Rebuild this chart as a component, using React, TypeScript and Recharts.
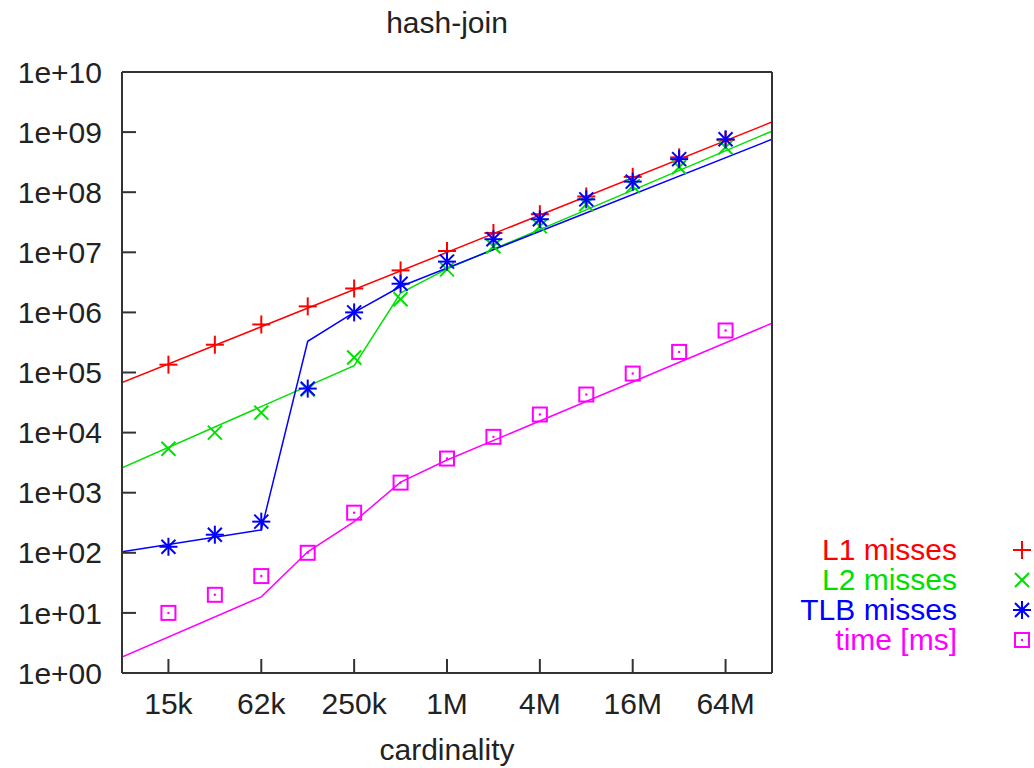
import React from 'react';
import { ComposedChart, Line, Scatter, XAxis, YAxis, Legend } from 'recharts';

// measured points, one per cardinality
const cardinality = [15625, 31250, 62500, 125000, 250000, 500000, 1000000, 2000000, 4000000, 8000000, 16000000, 32000000, 64000000];
const l1Misses = [1.35e5, 2.9e5, 6.3e5, 1.26e6, 2.5e6, 5e6, 1.05e7, 2.1e7, 4.3e7, 8.5e7, 1.8e8, 3.8e8, 7.4e8];
const l2Misses = [5.4e3, 1e4, 2.15e4, 5.2e4, 1.78e5, 1.65e6, 5.2e6, 1.26e7, 2.7e7, 6.3e7, 1.26e8, 2.6e8, 5.6e8];
const tlbMisses = [126, 200, 330, 5.4e4, 1e6, 3e6, 7e6, 1.65e7, 3.55e7, 7.6e7, 1.5e8, 3.55e8, 7.6e8];
const timeMs = [10, 20, 41, 100, 465, 1470, 3700, 8500, 2e4, 4.3e4, 9.6e4, 2.2e5, 5e5];

// model curves (the solid lines), breakpoints
const l1ModelX = [7812.5, 128000000];
const l1ModelY = [6.8e4, 1.47e9];
const l2ModelX = [7812.5, 250000, 500000, 1000000, 128000000];
const l2ModelY = [2.6e3, 1.3e5, 2.1e6, 5.3e6, 1.04e9];
const tlbModelX = [7812.5, 62500, 125000, 250000, 500000, 128000000];
const tlbModelY = [104, 240, 3.3e5, 1e6, 2.7e6, 7.6e8];
const timeModelX = [7812.5, 62500, 125000, 250000, 500000, 1000000, 128000000];
const timeModelY = [1.85, 18.5, 104, 330, 1500, 3500, 6.6e5];

const xTicks = [15625, 62500, 250000, 1000000, 4000000, 16000000, 64000000];
const xTickLabels = ['15k', '62k', '250k', '1M', '4M', '16M', '64M'];
const yTicks = [1, 10, 1e2, 1e3, 1e4, 1e5, 1e6, 1e7, 1e8, 1e9, 1e10];
const yTickLabels = ['1e+00', '1e+01', '1e+02', '1e+03', '1e+04', '1e+05', '1e+06', '1e+07', '1e+08', '1e+09', '1e+10'];

const xDomain = [7812.5, 128000000];
const yDomain = [1, 1e10];

const FONT = "'Liberation Sans', Arial, sans-serif";
const AXIS = '#333';
const TEXT = '#222';

type MarkerKind = 'plus' | 'cross' | 'star' | 'box';

const pairs = (xs: number[], ys: number[]) => xs.map((x, i) => ({ x, y: ys[i] }));

const series = [
  { name: 'L1 misses', color: '#ff0000', marker: 'plus' as MarkerKind, points: pairs(cardinality, l1Misses), model: pairs(l1ModelX, l1ModelY) },
  { name: 'L2 misses', color: '#00e000', marker: 'cross' as MarkerKind, points: pairs(cardinality, l2Misses), model: pairs(l2ModelX, l2ModelY) },
  { name: 'TLB misses', color: '#0000ff', marker: 'star' as MarkerKind, points: pairs(cardinality, tlbMisses), model: pairs(tlbModelX, tlbModelY) },
  { name: 'time [ms]', color: '#ff00ff', marker: 'box' as MarkerKind, points: pairs(cardinality, timeMs), model: pairs(timeModelX, timeModelY) },
];

function Marker({ kind, color, cx, cy }: { kind: MarkerKind; color: string; cx: number; cy: number }) {
  const s = 9;
  const d = 7;
  const sw = 2;
  if (kind === 'plus') {
    return (
      <g stroke={color} strokeWidth={sw}>
        <line x1={cx - s} y1={cy} x2={cx + s} y2={cy} />
        <line x1={cx} y1={cy - s} x2={cx} y2={cy + s} />
      </g>
    );
  }
  if (kind === 'cross') {
    return (
      <g stroke={color} strokeWidth={sw}>
        <line x1={cx - d} y1={cy - d} x2={cx + d} y2={cy + d} />
        <line x1={cx - d} y1={cy + d} x2={cx + d} y2={cy - d} />
      </g>
    );
  }
  if (kind === 'star') {
    return (
      <g stroke={color} strokeWidth={sw}>
        <line x1={cx - s} y1={cy} x2={cx + s} y2={cy} />
        <line x1={cx} y1={cy - s} x2={cx} y2={cy + s} />
        <line x1={cx - d} y1={cy - d} x2={cx + d} y2={cy + d} />
        <line x1={cx - d} y1={cy + d} x2={cx + d} y2={cy - d} />
      </g>
    );
  }
  return (
    <g>
      <rect x={cx - 7} y={cy - 7} width={14} height={14} fill="none" stroke={color} strokeWidth={sw} />
      <circle cx={cx} cy={cy} r={1.2} fill={color} />
    </g>
  );
}

function renderLegend() {
  return (
    <div style={{ fontFamily: FONT, fontSize: 30 }}>
      {series.map((s) => (
        <div key={s.name} style={{ display: 'flex', alignItems: 'center', height: 30 }}>
          <span style={{ width: 177, textAlign: 'right', color: s.color, lineHeight: '30px', whiteSpace: 'nowrap' }}>{s.name}</span>
          <svg width={20} height={20} style={{ marginLeft: 55 }}>
            <Marker kind={s.marker} color={s.color} cx={10} cy={10} />
          </svg>
        </div>
      ))}
    </div>
  );
}

export default function App() {
  return (
    <div style={{ position: 'absolute', left: 0, top: 0, width: 1034, height: 768, background: '#fff', fontFamily: FONT }}>
      <div style={{ position: 'absolute', left: 0, top: 8, width: 894, textAlign: 'center', fontSize: 30, lineHeight: '30px', color: TEXT }}>
        hash-join
      </div>
      <ComposedChart width={1034} height={768} margin={{ top: 71, right: 261, bottom: 0, left: 12 }}>
        <XAxis
          xAxisId={0}
          dataKey="x"
          type="number"
          scale="log"
          domain={xDomain}
          allowDataOverflow
          ticks={xTicks}
          interval={0}
          height={95}
          tickFormatter={(v: number) => xTickLabels[xTicks.indexOf(v)] ?? ''}
          tickSize={-14}
          tickMargin={34}
          stroke={AXIS}
          strokeWidth={2}
          tick={{ fill: TEXT, fontSize: 30, fontFamily: FONT }}
          label={{ value: 'cardinality', position: 'insideBottom', offset: 8, fill: TEXT, fontSize: 30, fontFamily: FONT }}
        />
        <XAxis
          xAxisId="top"
          orientation="top"
          type="number"
          scale="log"
          domain={xDomain}
          allowDataOverflow
          ticks={xTicks}
          interval={0}
          height={1}
          tick={false}
          tickSize={-14}
          stroke={AXIS}
          strokeWidth={2}
        />
        <YAxis
          yAxisId={0}
          dataKey="y"
          type="number"
          scale="log"
          domain={yDomain}
          allowDataOverflow
          ticks={yTicks}
          interval={0}
          width={110}
          tickFormatter={(v: number) => yTickLabels[yTicks.indexOf(v)] ?? ''}
          tickSize={-14}
          tickMargin={34}
          stroke={AXIS}
          strokeWidth={2}
          tick={{ fill: TEXT, fontSize: 30, fontFamily: FONT }}
        />
        <YAxis
          yAxisId="right"
          orientation="right"
          type="number"
          scale="log"
          domain={yDomain}
          allowDataOverflow
          ticks={yTicks}
          interval={0}
          width={1}
          tick={false}
          tickSize={-14}
          stroke={AXIS}
          strokeWidth={2}
        />
        {series.map((s) => (
          <Line
            key={s.name + '-model'}
            data={s.model}
            dataKey="y"
            type="linear"
            stroke={s.color}
            strokeWidth={1.5}
            dot={false}
            activeDot={false}
            legendType="none"
            isAnimationActive={false}
          />
        ))}
        {series.map((s) => (
          <Scatter
            key={s.name}
            name={s.name}
            data={s.points}
            dataKey="y"
            fill={s.color}
            isAnimationActive={false}
            shape={(p: any) => <Marker kind={s.marker} color={s.color} cx={p.cx} cy={p.cy} />}
          />
        ))}
        <Legend
          layout="vertical"
          align="center"
          verticalAlign="middle"
          wrapperStyle={{ left: 780, top: 535, width: 254 }}
          content={renderLegend}
        />
      </ComposedChart>
    </div>
  );
}
